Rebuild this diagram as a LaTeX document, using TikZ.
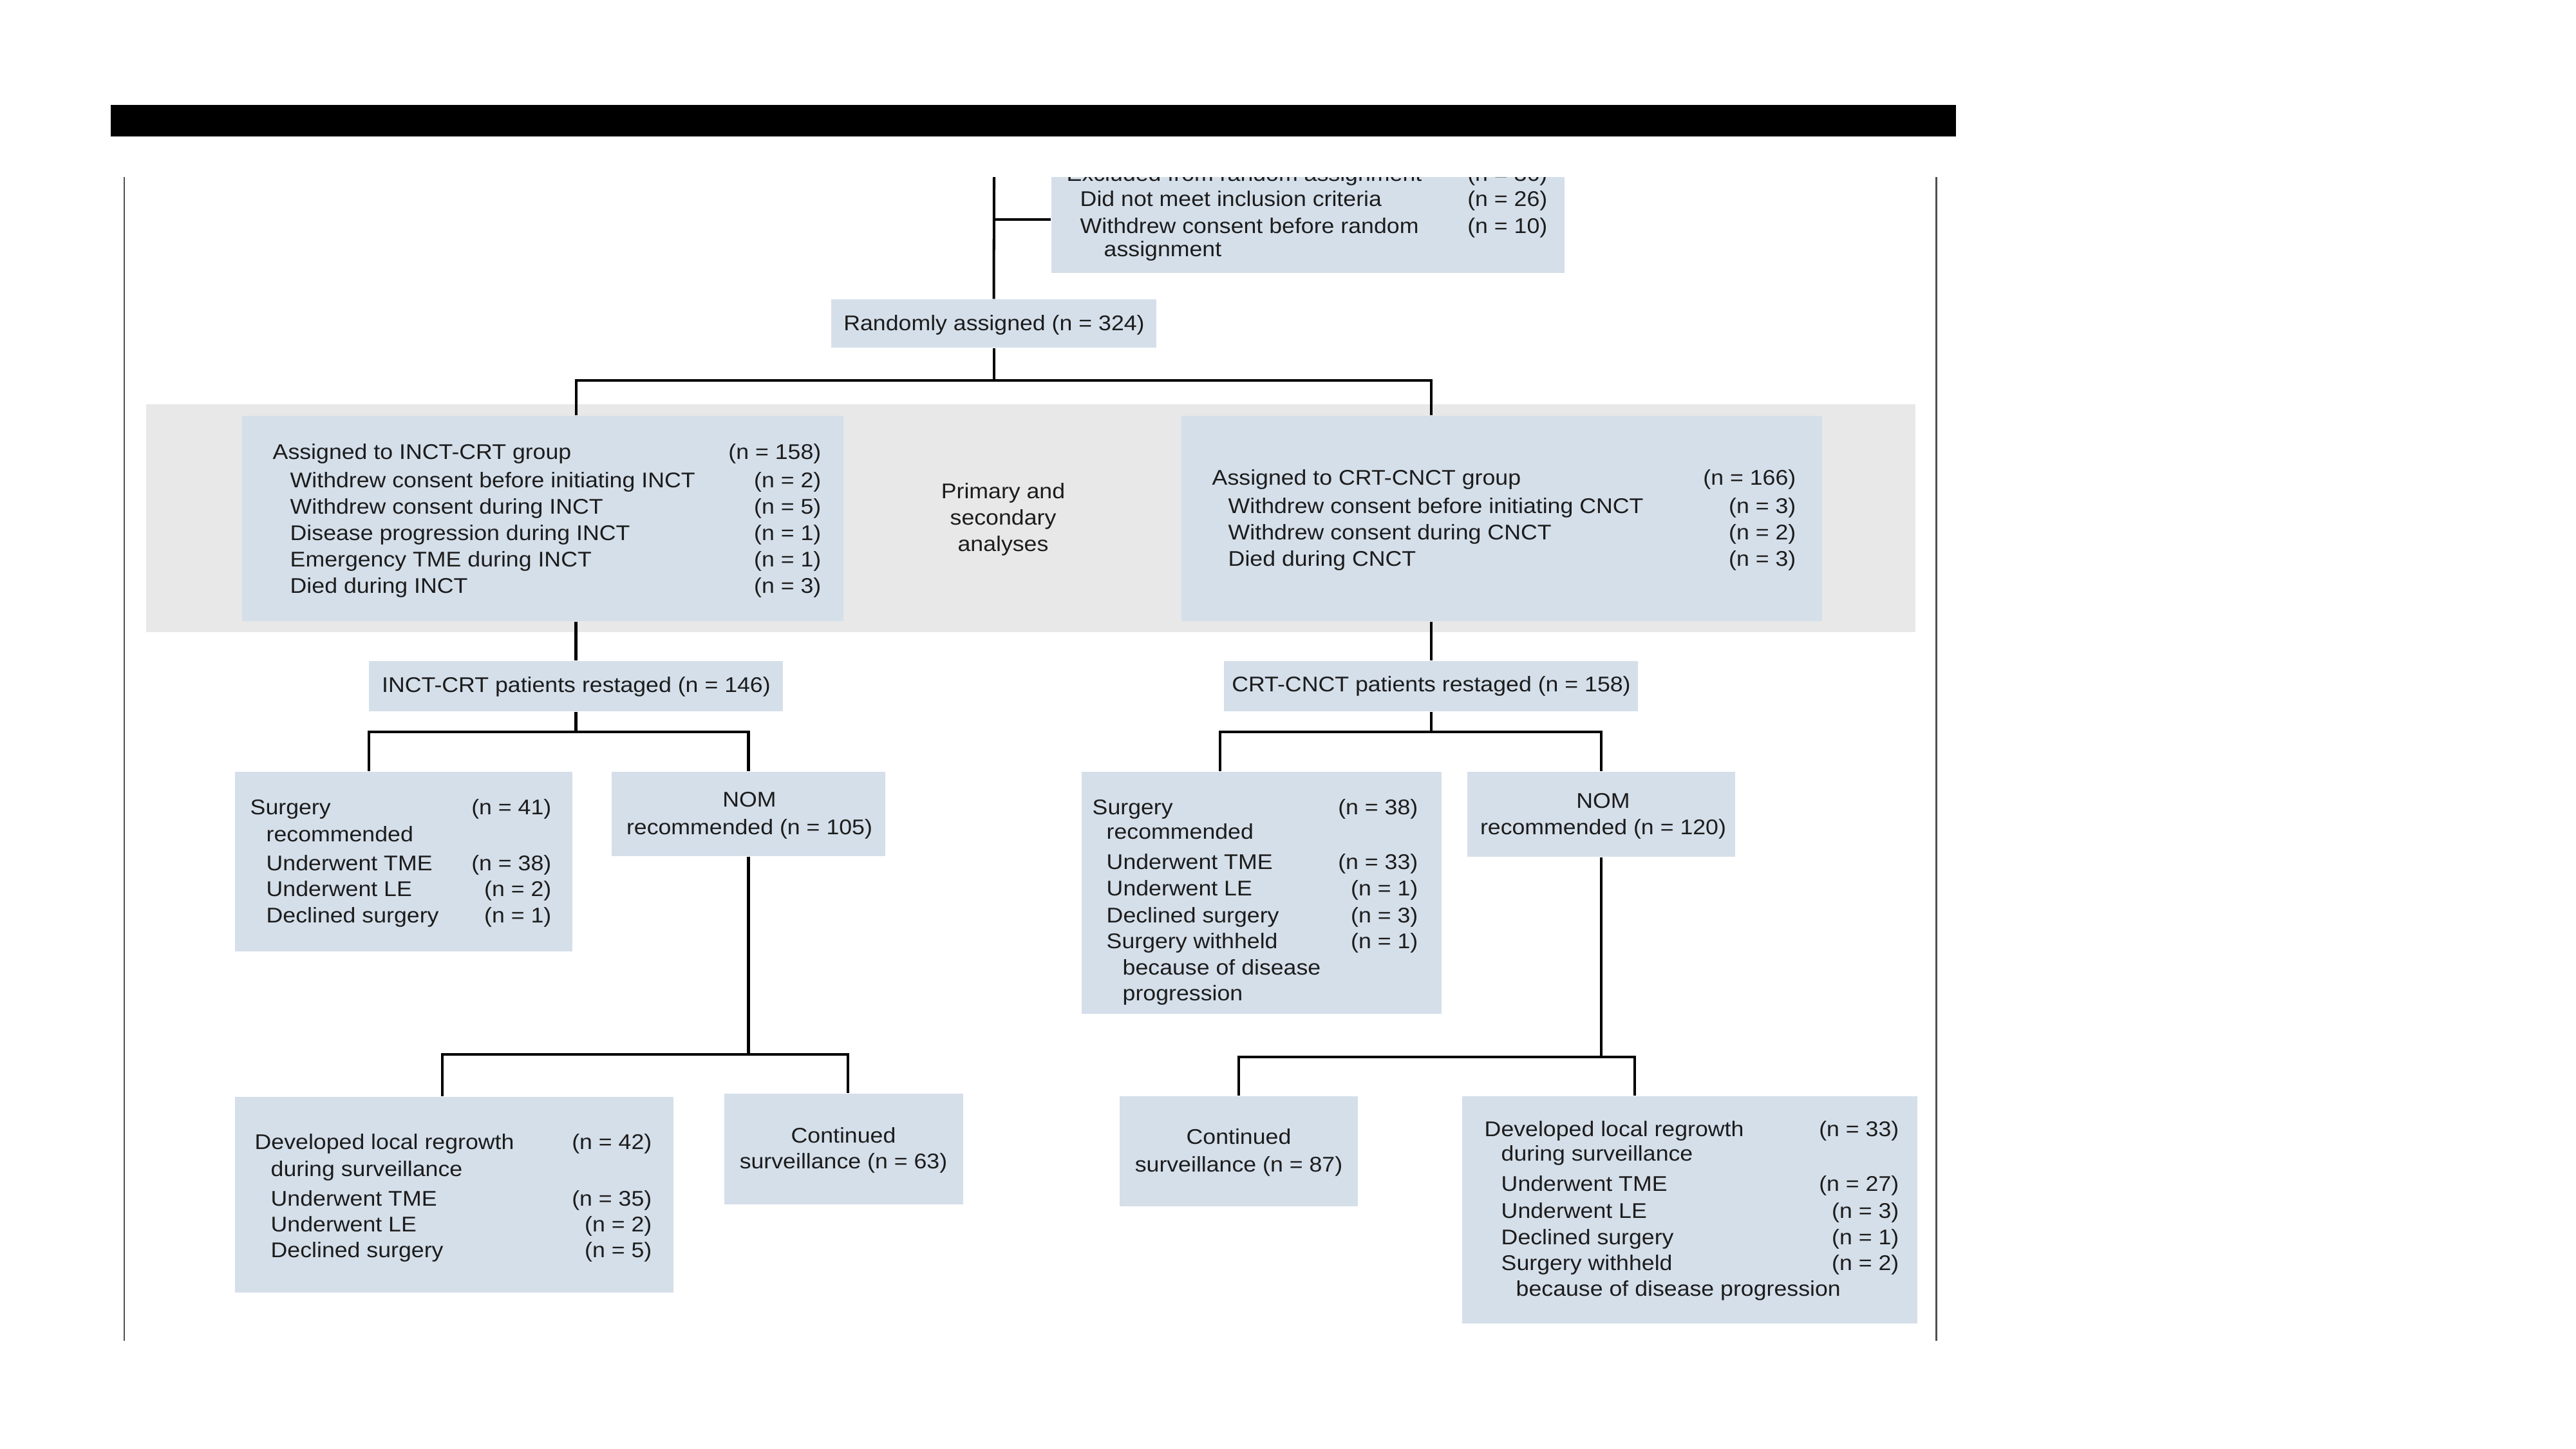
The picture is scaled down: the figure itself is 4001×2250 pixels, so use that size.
\documentclass[tikz,border=0pt]{standalone}
\usepackage{fontspec}
\setmainfont{Liberation Sans}[FakeStretch=1.08]
\usetikzlibrary{fit}
\definecolor{boxc}{RGB}{213,223,234}
\definecolor{bandc}{RGB}{232,232,232}
\definecolor{txt}{RGB}{28,28,28}
\definecolor{framec}{RGB}{80,80,80}
\begin{document}
\begin{tikzpicture}[x=0.01cm,y=-0.01cm,
  font=\fontsize{9.4pt}{12pt}\selectfont, text=txt,
  bx/.style={fill=boxc, inner sep=0pt, draw=none},
  lbl/.style={anchor=base west, inner sep=0pt},
  num/.style={anchor=base east, inner sep=0pt},
  ctr/.style={anchor=base, inner sep=0pt},
  conn/.style={line width=1.15pt, draw=black, line join=miter},
  framel/.style={line width=0.85pt, draw=framec}]
\useasboundingbox (0,0) rectangle (4001,2250);
\fill[white] (0,0) rectangle (4001,2250);
% top bar and frame
\fill[black] (172,163) rectangle (3038,212);
\draw[framel] (193,275) -- (193,2083);
\draw[framel] (3007,275) -- (3007,2083);
% band
\node[fill=bandc, inner sep=0pt, fit={(227,628) (2975,982)}] (band) {};
% boxes
\node[bx, fit={(1633,230) (2430,424)}] (excl) {};
\node[bx, fit={(1291,465) (1796,540)}] (rand) {};
\node[bx, fit={(376,646) (1310,965)}] (inct) {};
\node[bx, fit={(1835,646) (2830,965)}] (crt) {};
\node[bx, fit={(573,1027) (1216,1105)}] (inctR) {};
\node[bx, fit={(1901,1027) (2544,1105)}] (crtR) {};
\node[bx, fit={(365,1199) (889,1478)}] (surgL) {};
\node[bx, fit={(950,1199) (1375,1330)}] (nomL) {};
\node[bx, fit={(1680,1199) (2239,1575)}] (surgR) {};
\node[bx, fit={(2279,1199) (2695,1331)}] (nomR) {};
\node[bx, fit={(365,1704) (1046,2008)}] (regL) {};
\node[bx, fit={(1125,1699) (1496,1871)}] (contL) {};
\node[bx, fit={(1739,1703) (2109,1874)}] (contR) {};
\node[bx, fit={(2271,1703) (2978,2056)}] (regR) {};
% connectors
\coordinate (top) at (1544,275);
\coordinate (exj) at (1544,341);
\draw[conn] (top) -- (rand.north);
\draw[conn] (exj) -- (exj -| excl.west);
\coordinate (b1L) at (895,591);
\coordinate (b1R) at (2223,591);
\draw[conn] (rand.south) -- (rand.south |- b1L);
\draw[conn] (inct.north -| b1L) |- (b1R) -- (crt.north -| b1R);
\draw[conn] (inct.south -| inctR.north) -- (inctR.north);
\draw[conn] (crt.south -| crtR.north) -- (crtR.north);
\coordinate (b2L) at (573,1137);
\draw[conn] (inctR.south) -- (inctR.south |- b2L);
\draw[conn] (surgL.north -| b2L) |- (nomL.north |- b2L) -- (nomL.north);
\coordinate (b3L) at (1895,1137);
\draw[conn] (crtR.south) -- (crtR.south |- b3L);
\draw[conn] (surgR.north -| b3L) |- (nomR.north |- b3L) -- (nomR.north);
\coordinate (b4L) at (687,1638);
\coordinate (b4R) at (1317,1638);
\draw[conn] (nomL.south) -- (nomL.south |- b4L);
\draw[conn] (regL.north -| b4L) |- (b4R) -- (contL.north -| b4R);
\coordinate (b5R) at (2539,1642);
\draw[conn] (nomR.south) -- (nomR.south |- b5R);
\draw[conn] (contR.north) |- (b5R) -- (regR.north -| b5R);
% excluded box text
\node[lbl] (ex1) at (1656,281) {Excluded from random assignment};
\node[num] (ex1n) at (2404,281) {(n = 36)};
\node[lbl] (ex2) at (1677,320) {Did not meet inclusion criteria};
\node[num] (ex2n) at (2404,320) {(n = 26)};
\node[lbl] (ex3) at (1677,362) {Withdrew consent before random};
\node[num] (ex3n) at (2404,362) {(n = 10)};
\node[lbl] (ex4) at (1714,398) {assignment};
\fill[white] (1600,212) rectangle (2460,275);
% randomly
\node[ctr] (randt) at (1544,513) {Randomly assigned (n = 324)};
% INCT box
\node[lbl] (i1) at (423,713) {Assigned to INCT-CRT group};
\node[num] (i1n) at (1276,713) {(n = 158)};
\node[lbl] (i2) at (450,757) {Withdrew consent before initiating INCT};
\node[num] (i2n) at (1276,757) {(n = 2)};
\node[lbl] (i3) at (450,798) {Withdrew consent during INCT};
\node[num] (i3n) at (1276,798) {(n = 5)};
\node[lbl] (i4) at (450,839) {Disease progression during INCT};
\node[num] (i4n) at (1276,839) {(n = 1)};
\node[lbl] (i5) at (450,880) {Emergency TME during INCT};
\node[num] (i5n) at (1276,880) {(n = 1)};
\node[lbl] (i6) at (450,921) {Died during INCT};
\node[num] (i6n) at (1276,921) {(n = 3)};
% CRT box
\node[lbl] (c1) at (1882,753) {Assigned to CRT-CNCT group};
\node[num] (c1n) at (2790,753) {(n = 166)};
\node[lbl] (c2) at (1907,797) {Withdrew consent before initiating CNCT};
\node[num] (c2n) at (2790,797) {(n = 3)};
\node[lbl] (c3) at (1907,838) {Withdrew consent during CNCT};
\node[num] (c3n) at (2790,838) {(n = 2)};
\node[lbl] (c4) at (1907,879) {Died during CNCT};
\node[num] (c4n) at (2790,879) {(n = 3)};
% primary
\node[ctr] (p1) at (1558,774) {Primary and};
\node[ctr] (p2) at (1558,815) {secondary};
\node[ctr] (p3) at (1558,856) {analyses};
% restaged
\node[ctr] (ir) at (895,1075) {INCT-CRT patients restaged (n = 146)};
\node[ctr] (cr) at (2223,1074) {CRT-CNCT patients restaged (n = 158)};
% surgery left
\node[lbl] (sl1) at (388,1265) {Surgery};
\node[num] (sl1n) at (857,1265) {(n = 41)};
\node[lbl] (sl2) at (413,1307) {recommended};
\node[lbl] (sl3) at (413,1352) {Underwent TME};
\node[num] (sl3n) at (857,1352) {(n = 38)};
\node[lbl] (sl4) at (413,1392) {Underwent LE};
\node[num] (sl4n) at (857,1392) {(n = 2)};
\node[lbl] (sl5) at (413,1433) {Declined surgery};
\node[num] (sl5n) at (857,1433) {(n = 1)};
% NOM left
\node[ctr] (nl1) at (1164,1253) {NOM};
\node[ctr] (nl2) at (1164,1296) {recommended (n = 105)};
% surgery right
\node[lbl] (sr1) at (1696,1265) {Surgery};
\node[num] (sr1n) at (2203,1265) {(n = 38)};
\node[lbl] (sr2) at (1718,1303) {recommended};
\node[lbl] (sr3) at (1718,1350) {Underwent TME};
\node[num] (sr3n) at (2203,1350) {(n = 33)};
\node[lbl] (sr4) at (1718,1391) {Underwent LE};
\node[num] (sr4n) at (2203,1391) {(n = 1)};
\node[lbl] (sr5) at (1718,1433) {Declined surgery};
\node[num] (sr5n) at (2203,1433) {(n = 3)};
\node[lbl] (sr6) at (1718,1473) {Surgery withheld};
\node[num] (sr6n) at (2203,1473) {(n = 1)};
\node[lbl] (sr7) at (1743,1514) {because of disease};
\node[lbl] (sr8) at (1743,1554) {progression};
% NOM right
\node[ctr] (nr1) at (2490,1255) {NOM};
\node[ctr] (nr2) at (2490,1296) {recommended (n = 120)};
% regrowth left
\node[lbl] (rl1) at (395,1785) {Developed local regrowth};
\node[num] (rl1n) at (1013,1785) {(n = 42)};
\node[lbl] (rl2) at (420,1827) {during surveillance};
\node[lbl] (rl3) at (420,1873) {Underwent TME};
\node[num] (rl3n) at (1013,1873) {(n = 35)};
\node[lbl] (rl4) at (420,1913) {Underwent LE};
\node[num] (rl4n) at (1013,1913) {(n = 2)};
\node[lbl] (rl5) at (420,1953) {Declined surgery};
\node[num] (rl5n) at (1013,1953) {(n = 5)};
% continued left
\node[ctr] (cl1) at (1310,1775) {Continued};
\node[ctr] (cl2) at (1310,1815) {surveillance (n = 63)};
% continued right
\node[ctr] (cn1) at (1924,1777) {Continued};
\node[ctr] (cn2) at (1924,1820) {surveillance (n = 87)};
% regrowth right
\node[lbl] (rr1) at (2305,1765) {Developed local regrowth};
\node[num] (rr1n) at (2950,1765) {(n = 33)};
\node[lbl] (rr2) at (2331,1803) {during surveillance};
\node[lbl] (rr3) at (2331,1850) {Underwent TME};
\node[num] (rr3n) at (2950,1850) {(n = 27)};
\node[lbl] (rr4) at (2331,1892) {Underwent LE};
\node[num] (rr4n) at (2950,1892) {(n = 3)};
\node[lbl] (rr5) at (2331,1933) {Declined surgery};
\node[num] (rr5n) at (2950,1933) {(n = 1)};
\node[lbl] (rr6) at (2331,1973) {Surgery withheld};
\node[num] (rr6n) at (2950,1973) {(n = 2)};
\node[lbl] (rr7) at (2354,2013) {because of disease progression};
\end{tikzpicture}
\end{document}
